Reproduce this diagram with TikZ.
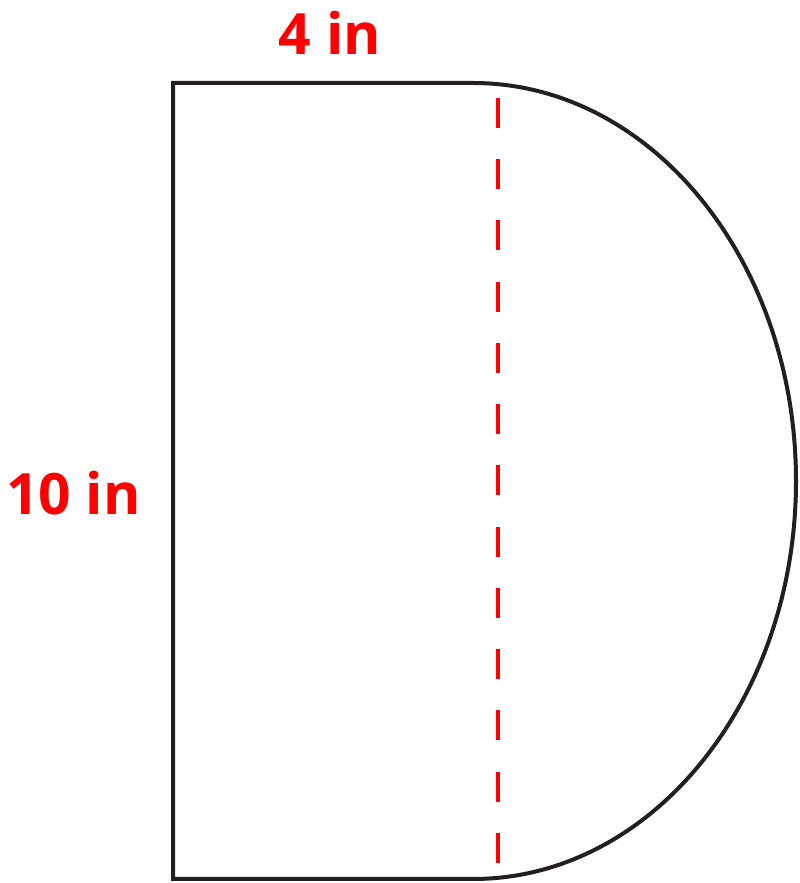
\documentclass[tikz,border=0pt]{standalone}
\usepackage{fontspec}
\setmainfont{Open Sans}
\definecolor{outline}{RGB}{35,31,32}
\definecolor{dimred}{RGB}{255,0,0}
\begin{document}
\begin{tikzpicture}[x=1pt,y=1pt,
  shapeline/.style={draw=outline,line width=4pt,line join=miter},
  cutline/.style={draw=dimred,line width=4.3pt,dash pattern=on 30pt off 31.25pt},
  dimlabel/.style={text=dimred,font=\fontsize{57}{57}\selectfont\bfseries,inner sep=0pt,anchor=base}]
\useasboundingbox (0,0) rectangle (800,883);
\draw[shapeline] (473,4) -- (173,4) -- (173,800) -- (473,800)
  arc[start angle=90,end angle=-90,x radius=323,y radius=398] -- cycle;
\coordinate (cuttop) at (498,785);
\coordinate (cutbot) at (498,20);
\draw[cutline] (cuttop) -- (cutbot);
\node[dimlabel] (toplabel) at (330,828) {4 in};
\node[dimlabel] (leftlabel) at (73.5,368) {10 in};
\end{tikzpicture}
\end{document}
